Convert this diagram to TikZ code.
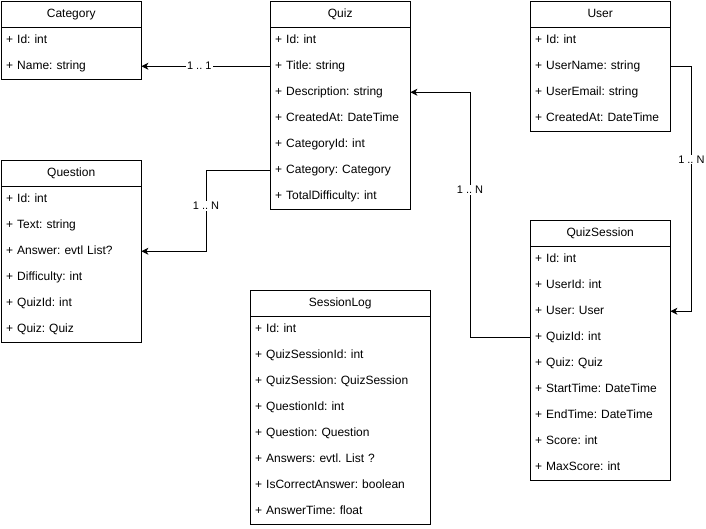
\documentclass[tikz,border=0pt]{standalone}
\usepackage{fontspec}
\setmainfont{Liberation Sans}
\usetikzlibrary{arrows.meta}

% UML class box: id, x, y, width, title, number of rows, rows
\newcommand\umlclassbox[7]{%
  \pgfmathsetmacro\rowtw{#4-10}%
  \node[hdr, minimum width=#4pt] (#1) at (#2,#3) {#5};
  \foreach \r [count=\i] in {#7} {
    \node[attrrow, text width=\rowtw pt, minimum width=#4pt] (#1-\i) at (#2,#3+26*\i) {\r};
  }
  \draw[box] (#1.south west) -- (#1.south east);
  \draw[box] (#2,#3) rectangle ++(#4,26+26*#6);
}

\begin{document}
\frenchspacing
\begin{tikzpicture}[x=1pt,y=-1pt,
  box/.style={draw=black, line width=1pt},
  hdr/.style={minimum height=26pt, inner sep=0pt, anchor=north west,
    font=\fontsize{12}{14}\selectfont\frenchspacing, text height=9pt, text depth=3pt},
  attrrow/.style={minimum height=26pt, inner xsep=5pt, inner ysep=0pt,
    anchor=north west, align=left, font=\fontsize{12}{14}\selectfont\frenchspacing,
    text height=9pt, text depth=3pt},
  conn/.style={draw=black, line width=1pt,
    -{Stealth[length=7pt,width=7pt,inset=2pt]}},
  mult/.style={fill=white, inner sep=1pt, font=\fontsize{11}{13}\selectfont\frenchspacing}]

\useasboundingbox (0,0) rectangle (706,528);

\umlclassbox{cat}{1}{1}{140}{Category}{2}{+ Id: int, + Name: string}
\umlclassbox{quiz}{270}{1}{140}{Quiz}{7}{+ Id: int, + Title: string,
  + Description: string, + CreatedAt: DateTime, + CategoryId: int,
  + Category: Category, + TotalDifficulty: int}
\umlclassbox{user}{530}{1}{140}{User}{4}{+ Id: int, + UserName: string,
  + UserEmail: string, + CreatedAt: DateTime}
\umlclassbox{question}{1}{160}{140}{Question}{6}{+ Id: int, + Text: string,
  + Answer: evtl List?, + Difficulty: int, + QuizId: int, + Quiz: Quiz}
\umlclassbox{qs}{530}{220}{140}{QuizSession}{9}{+ Id: int, + UserId: int,
  + User: User, + QuizId: int, + Quiz: Quiz, + StartTime: DateTime,
  + EndTime: DateTime, + Score: int, + MaxScore: int}
\umlclassbox{log}{250}{290}{180}{SessionLog}{8}{+ Id: int,
  + QuizSessionId: int, + QuizSession: QuizSession, + QuestionId: int,
  + Question: Question, + Answers: evtl. List ?,
  + IsCorrectAnswer: boolean, + AnswerTime: float}

% associations
\draw[conn] (quiz-2.west) -- node[mult, pos=0.55] {1 .. 1} (cat-2.east);
\draw[conn] (quiz-6.west) -- ++(-64,0)
  |- node[mult, pos=0.22] {1 .. N} (question-3.east);
\draw[conn] (qs-4.west) -- ++(-60,0)
  |- node[mult, pos=0.3] {1 .. N} (quiz-3.east);
\draw[conn] (user-2.east) -- ++(21,0)
  |- node[mult, pos=0.19] {1 .. N} (qs-3.east);

\end{tikzpicture}
\end{document}
